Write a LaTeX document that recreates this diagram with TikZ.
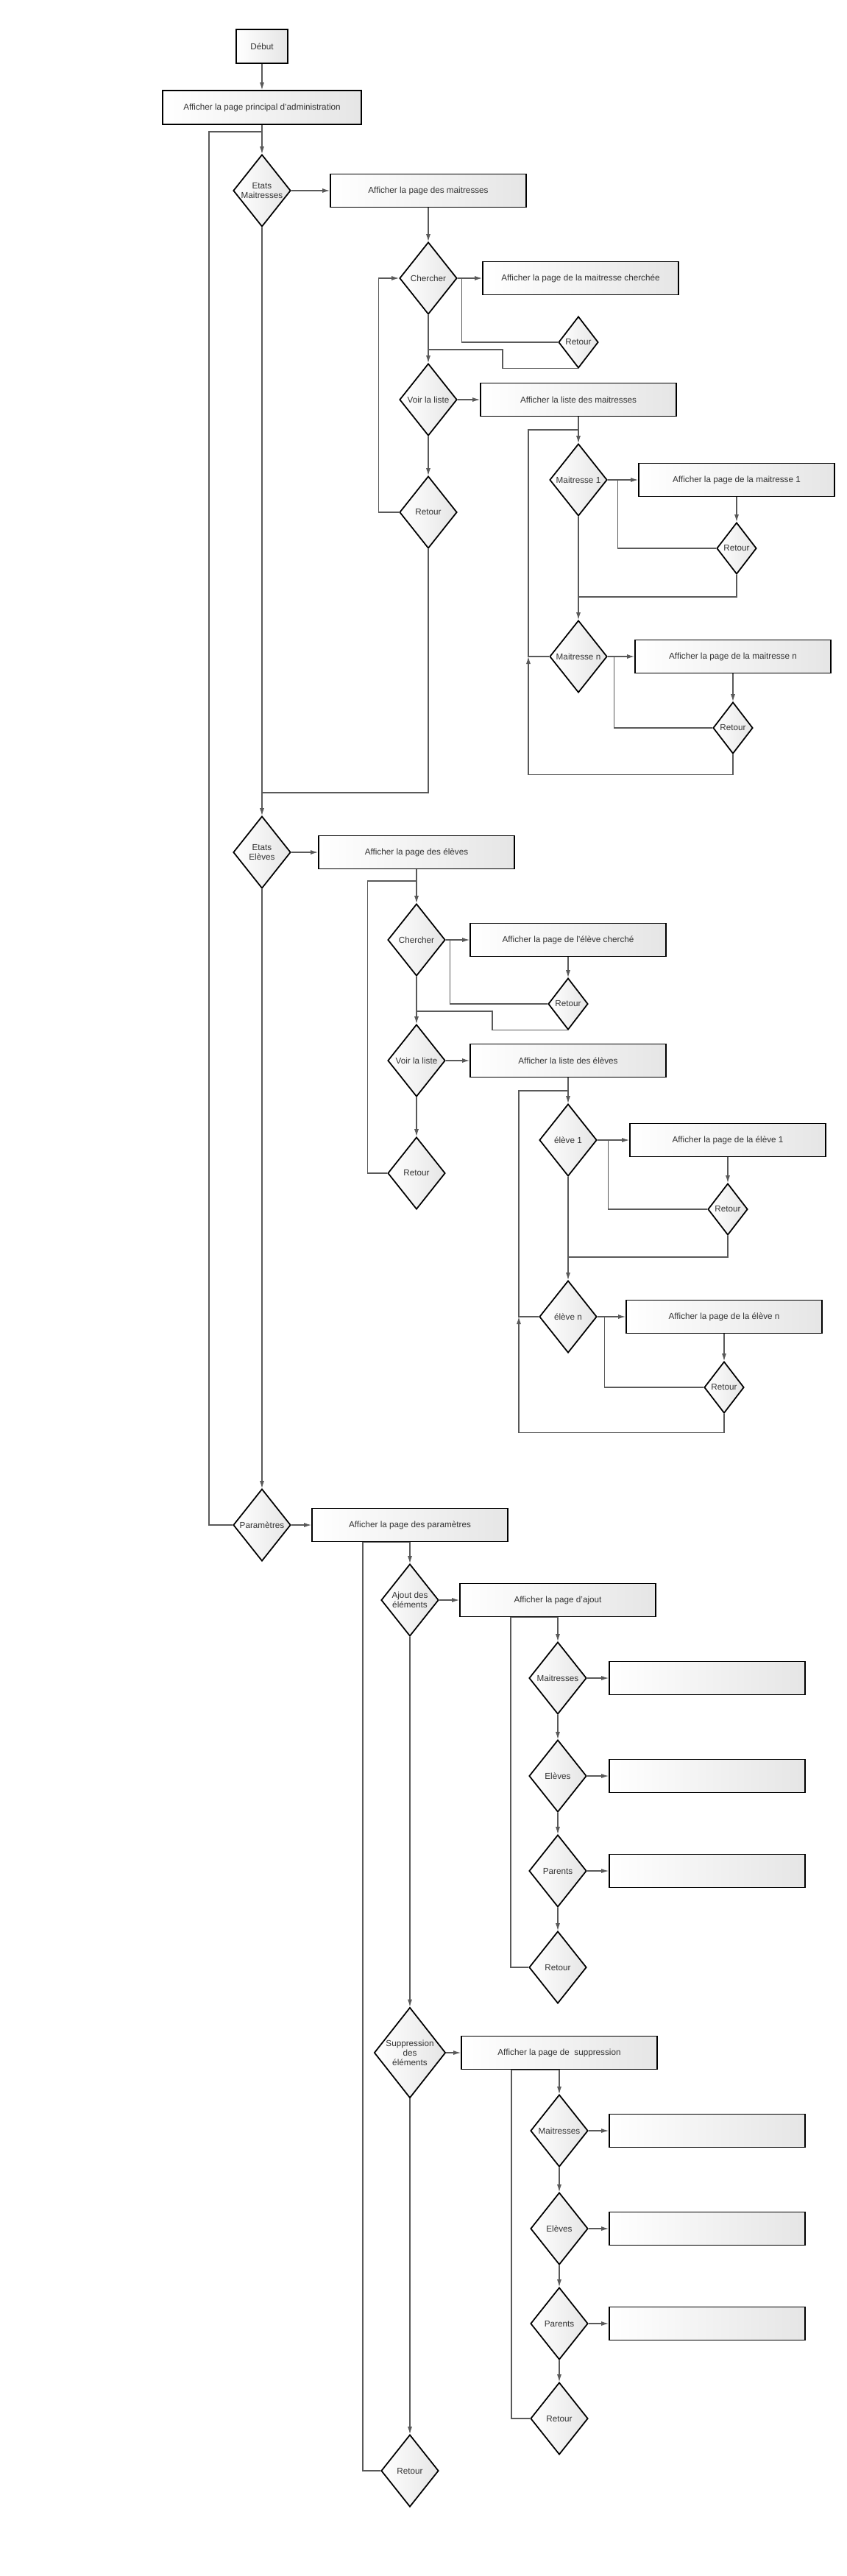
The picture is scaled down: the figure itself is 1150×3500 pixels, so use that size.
\documentclass[tikz,border=0pt]{standalone}
\usepackage{fontspec}
\setmainfont{Liberation Sans}
\usetikzlibrary{shapes.geometric,arrows.meta,calc}

\tikzset{
  page/.style={draw, line width=1.5pt, left color=white, right color=black!10,
    minimum width=79.8mm, minimum height=13.5mm, inner sep=0pt,
    font=\fontsize{10}{12}\selectfont, text=black!80},
  choice/.style={diamond, aspect=0.8, draw, line width=1.5pt, left color=white, right color=black!10,
    minimum width=23.4mm, minimum height=29.4mm, inner sep=0pt, align=center,
    font=\fontsize{10}{11}\selectfont, text=black!80},
  back/.style={choice, minimum width=16.2mm, minimum height=21mm}
}

\begin{document}
\begin{tikzpicture}[x=0.3mm, y=-0.3mm,
    link/.style={draw=black!65, line width=1pt, -{Latex[length=3mm,width=1.8mm]}},
    wire/.style={draw=black!65, line width=1pt}]
  \path[use as bounding box] (0,0) rectangle (1150,3500);

  \node[page, minimum width=21mm, minimum height=13.8mm] (debut) at (356,63) {Début};
  \node[page, minimum width=81mm, minimum height=13.8mm] (admin) at (356,146) {Afficher la page principal d'administration};
  \coordinate (topAdmin) at (356,179);

  % maitresses
  \node[choice] (etatsM) at (356,259) {Etats\\Maitresses};
  \node[page] (pageM) at (582,259) {Afficher la page des maitresses};
  \node[choice] (chercherM) at (582,378) {Chercher};
  \node[page] (trouveM) at (789,378) {Afficher la page de la maitresse cherchée};
  \node[back] (retourTrouveM) at (786,465) {Retour};
  \node[choice] (listeBtnM) at (582,543) {Voir la liste};
  \node[page] (listeM) at (786,543) {Afficher la liste des maitresses};
  \node[choice] (retourM) at (582,696) {Retour};
  \node[choice] (maitresse1) at (786,652) {Maitresse 1};
  \node[page] (pageM1) at (1001,652) {Afficher la page de la maitresse 1};
  \node[back] (retourM1) at (1001,745) {Retour};
  \node[choice] (maitresseN) at (786,892) {Maitresse n};
  \node[page] (pageMn) at (996,892) {Afficher la page de la maitresse n};
  \node[back] (retourMn) at (996,989) {Retour};
  \coordinate (joinM) at (582,475);
  \coordinate (topM) at (786,584);
  \coordinate (backM) at (718,892);
  \coordinate (joinM1) at (786,811);
  \coordinate (joinMain) at (356,1077);

  \draw[link] (debut) -- (admin);
  \draw[link] (admin) -- (etatsM);
  \draw[link] (etatsM) -- (pageM);
  \draw[link] (pageM) -- (chercherM);
  \draw[link] (chercherM) -- (trouveM);
  \draw[wire] (chercherM.east) -- ++(6,0) |- (retourTrouveM.west);
  \draw[wire] (retourTrouveM.south) -| ($(joinM)+(101,0)$) -- (joinM);
  \draw[link] (chercherM) -- (listeBtnM);
  \draw[link] (listeBtnM) -- (listeM);
  \draw[link] (listeBtnM) -- (retourM);
  \draw[link] (retourM.west) -- ++(-28,0) |- (chercherM.west);
  \draw[wire] (retourM.south) |- (joinMain);
  \draw[link] (listeM) -- (maitresse1);
  \draw[link] (maitresse1) -- (pageM1);
  \draw[wire] (maitresse1.east) -- ++(14,0) |- (retourM1.west);
  \draw[link] (pageM1) -- (retourM1);
  \draw[wire] (retourM1.south) |- (joinM1);
  \draw[link] (maitresse1) -- (maitresseN);
  \draw[link] (maitresseN) -- (pageMn);
  \draw[wire] (maitresseN.east) -- ++(9,0) |- (retourMn.west);
  \draw[link] (pageMn) -- (retourMn);
  \draw[link] (retourMn.south) -- ++(0,28) -| (backM);
  \draw[wire] (maitresseN.west) -- (backM) |- (topM);

  % eleves
  \node[choice] (etatsE) at (356,1158) {Etats\\Elèves};
  \node[page] (pageE) at (566,1158) {Afficher la page des élèves};
  \node[choice] (chercherE) at (566,1277) {Chercher};
  \node[page] (trouveE) at (772,1277) {Afficher la page de l'élève cherché};
  \node[back] (retourTrouveE) at (772,1364) {Retour};
  \node[choice] (listeBtnE) at (566,1441) {Voir la liste};
  \node[page] (listeE) at (772,1441) {Afficher la liste des élèves};
  \node[choice] (retourE) at (566,1594) {Retour};
  \node[choice] (eleve1) at (772,1549) {élève 1};
  \node[page] (pageE1) at (989,1549) {Afficher la page de la élève 1};
  \node[back] (retourE1) at (989,1643) {Retour};
  \node[choice] (eleveN) at (772,1789) {élève n};
  \node[page] (pageEn) at (984,1789) {Afficher la page de la élève n};
  \node[back] (retourEn) at (984,1885) {Retour};
  \coordinate (topE) at (566,1197);
  \coordinate (joinE) at (566,1374);
  \coordinate (topE1) at (772,1482);
  \coordinate (backE) at (705,1789);
  \coordinate (joinE1) at (772,1708);

  \draw[link] (etatsM) -- (etatsE);
  \draw[link] (etatsE) -- (pageE);
  \draw[link] (pageE) -- (chercherE);
  \draw[link] (chercherE) -- (trouveE);
  \draw[wire] (chercherE.east) -- ++(6,0) |- (retourTrouveE.west);
  \draw[link] (trouveE) -- (retourTrouveE);
  \draw[wire] (retourTrouveE.south) -| ($(joinE)+(103,0)$) -- (joinE);
  \draw[link] (chercherE) -- (listeBtnE);
  \draw[link] (listeBtnE) -- (listeE);
  \draw[link] (listeBtnE) -- (retourE);
  \draw[wire] (retourE.west) -- ++(-27,0) |- (topE);
  \draw[link] (listeE) -- (eleve1);
  \draw[link] (eleve1) -- (pageE1);
  \draw[wire] (eleve1.east) -- ++(15,0) |- (retourE1.west);
  \draw[link] (pageE1) -- (retourE1);
  \draw[wire] (retourE1.south) |- (joinE1);
  \draw[link] (eleve1) -- (eleveN);
  \draw[link] (eleveN) -- (pageEn);
  \draw[wire] (eleveN.east) -- ++(10,0) |- (retourEn.west);
  \draw[link] (pageEn) -- (retourEn);
  \draw[link] (retourEn.south) -- ++(0,26) -| (backE);
  \draw[wire] (eleveN.west) -- (backE) |- (topE1);

  % parametres
  \node[choice] (parametres) at (356,2072) {Paramètres};
  \node[page] (pageP) at (557,2072) {Afficher la page des paramètres};
  \node[choice] (ajout) at (557,2174) {Ajout des\\éléments};
  \node[page] (pageAjout) at (758,2174) {Afficher la page d'ajout};
  \node[choice] (retourAjout) at (758,2673) {Retour};
  \node[choice, minimum width=29.1mm, minimum height=36.9mm] (suppr) at (557,2789) {Suppression\\des\\éléments};
  \node[page] (pageSuppr) at (760,2789) {Afficher la page de\ \ suppression};
  \node[choice] (retourSuppr) at (760,3286) {Retour};
  \node[choice] (retourP) at (557,3357) {Retour};

  \foreach[count=\i] \lbl/\y in {Maitresses/2280, Elèves/2413, Parents/2542} {
    \node[choice] (ajoutChoix\i) at (758,\y) {\lbl};
    \node[page] (ajoutPage\i) at (961,\y) {};
    \draw[link] (ajoutChoix\i) -- (ajoutPage\i);
  }
  \foreach[count=\i] \lbl/\y in {Maitresses/2895, Elèves/3028, Parents/3157} {
    \node[choice] (supprChoix\i) at (760,\y) {\lbl};
    \node[page] (supprPage\i) at (961,\y) {};
    \draw[link] (supprChoix\i) -- (supprPage\i);
  }

  \draw[link] (etatsE) -- (parametres);
  \draw[wire] (parametres.west) -| ($(topAdmin)+(-72,0)$) -- (topAdmin);
  \draw[link] (parametres) -- (pageP);
  \draw[link] (pageP) -- (ajout);
  \draw[wire] (retourP.west) -| ($(pageP.south)+(-64,0)$) -- (pageP.south);
  \draw[link] (ajout) -- (pageAjout);
  \draw[link] (pageAjout) -- (ajoutChoix1);
  \draw[link] (ajoutChoix1) -- (ajoutChoix2);
  \draw[link] (ajoutChoix2) -- (ajoutChoix3);
  \draw[link] (ajoutChoix3) -- (retourAjout);
  \draw[wire] (retourAjout.west) -| ($(pageAjout.south)+(-64,0)$) -- (pageAjout.south);
  \draw[link] (ajout) -- (suppr);
  \draw[link] (suppr) -- (pageSuppr);
  \draw[link] (pageSuppr) -- (supprChoix1);
  \draw[link] (supprChoix1) -- (supprChoix2);
  \draw[link] (supprChoix2) -- (supprChoix3);
  \draw[link] (supprChoix3) -- (retourSuppr);
  \draw[wire] (retourSuppr.west) -| ($(pageSuppr.south)+(-65,0)$) -- (pageSuppr.south);
  \draw[link] (suppr) -- (retourP);
\end{tikzpicture}
\end{document}
